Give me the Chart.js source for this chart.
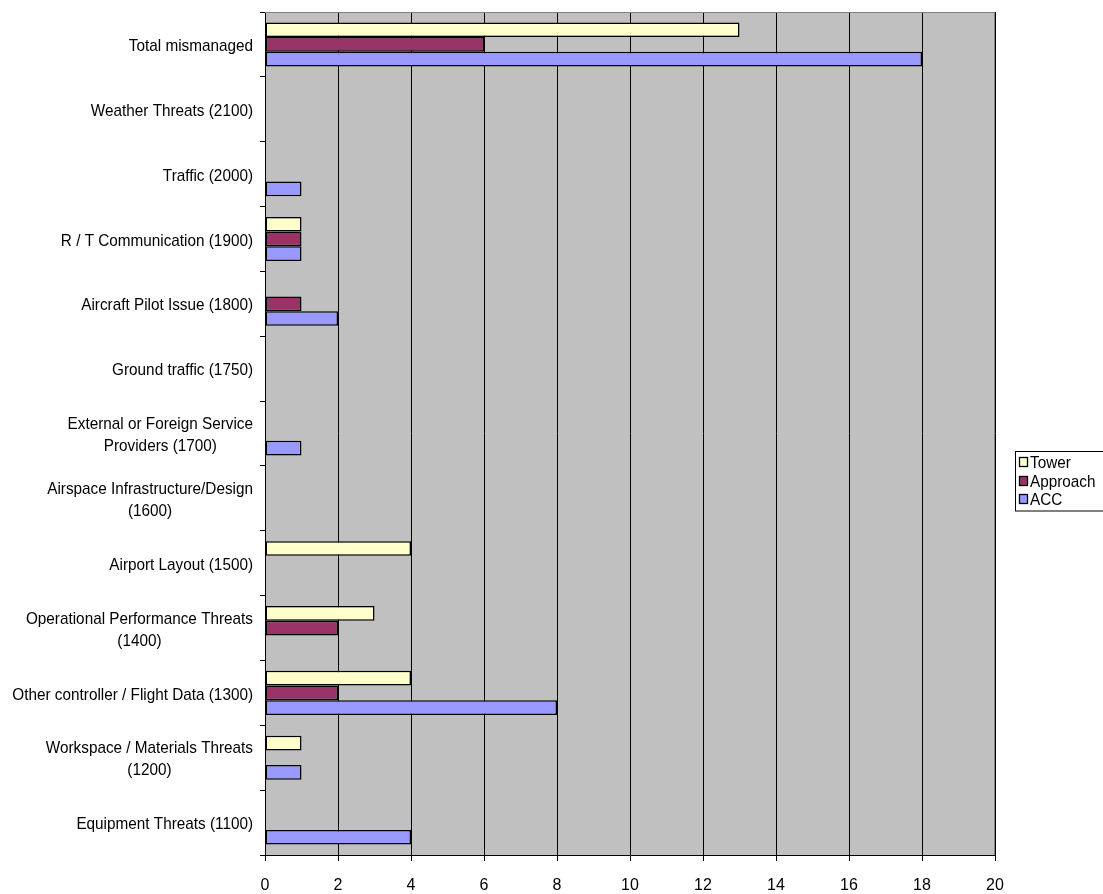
<!DOCTYPE html>
<html>
<head>
<meta charset="utf-8">
<script src="https://cdn.jsdelivr.net/npm/chart.js@4/dist/chart.umd.min.js"></script>
<style>
  html, body { margin: 0; padding: 0; background: #fff; }
  #wrap { width: 1103px; height: 894px; position: relative; }
</style>
</head>
<body>
<div id="wrap"><canvas id="c" width="1103" height="894"></canvas></div>
<script>
// Threat categories, top to bottom
const categories = [
  'Total mismanaged',
  'Weather Threats (2100)',
  'Traffic (2000)',
  'R / T Communication (1900)',
  'Aircraft Pilot Issue (1800)',
  'Ground traffic (1750)',
  ['External or Foreign Service', 'Providers (1700)'],
  ['Airspace Infrastructure/Design', '(1600)'],
  'Airport Layout (1500)',
  ['Operational Performance Threats', '(1400)'],
  'Other controller / Flight Data (1300)',
  ['Workspace / Materials Threats', '(1200)'],
  'Equipment Threats (1100)'
];

const towerValues    = [13, 0, 0, 1, 0, 0, 0, 0, 4, 3, 4, 1, 0];
const approachValues = [ 6, 0, 0, 1, 1, 0, 0, 0, 0, 2, 2, 0, 0];
const accValues      = [18, 0, 1, 1, 2, 0, 1, 0, 0, 0, 8, 1, 4];

const xTicks = [0, 2, 4, 6, 8, 10, 12, 14, 16, 18, 20];

const FONT = 'Liberation Sans, Arial, sans-serif';
const TEXT_SIZE = 17;
const SQUEEZE = 0.9;   // slightly condensed lettering

// Grey plot background with a thin frame on top and right
const plotBackground = {
  id: 'plotBackground',
  beforeDraw(chart) {
    const { ctx, chartArea: a } = chart;
    ctx.save();
    ctx.fillStyle = '#C0C0C0';
    ctx.fillRect(a.left, a.top, a.right - a.left, a.bottom - a.top);
    ctx.restore();
  },
  afterDatasetsDraw(chart) {
    const { ctx, chartArea: a } = chart;
    ctx.save();
    ctx.strokeStyle = '#808080';
    ctx.lineWidth = 1;
    ctx.beginPath();
    ctx.moveTo(a.left, a.top + 0.5);
    ctx.lineTo(a.right - 0.5, a.top + 0.5);
    ctx.lineTo(a.right - 0.5, a.bottom);
    ctx.stroke();
    ctx.restore();
  }
};

// Draw condensed text, anchored by its visual centre
function condensedText(ctx, str, cx, cy) {
  ctx.save();
  ctx.translate(cx, cy);
  ctx.scale(SQUEEZE, 1);
  ctx.textAlign = 'center';
  ctx.textBaseline = 'middle';
  ctx.fillText(str, 0, 0);
  ctx.restore();
}

// Category names: right-aligned block, lines centred within it
const categoryLabels = {
  id: 'categoryLabels',
  afterDraw(chart) {
    const { ctx } = chart;
    const yScale = chart.scales.y;
    const rightEdge = chart.chartArea.left - 12;
    const lineH = 22;
    ctx.save();
    ctx.font = TEXT_SIZE + 'px ' + FONT;
    ctx.fillStyle = '#000';
    chart.data.labels.forEach((lab, i) => {
      const lines = Array.isArray(lab) ? lab : [lab];
      const maxW = Math.max(...lines.map(l => ctx.measureText(l).width)) * SQUEEZE;
      const cx = rightEdge - maxW / 2;
      const cy = yScale.getPixelForTick(i);
      const startY = cy - (lines.length - 1) * lineH / 2 + 2;
      lines.forEach((l, k) => condensedText(ctx, l, cx, startY + k * lineH));
    });
    ctx.restore();
  }
};

// Boxed legend at the right-hand side
const boxLegend = {
  id: 'boxLegend',
  afterDraw(chart) {
    const { ctx } = chart;
    const ds = chart.data.datasets;
    const x = 1015, y = 451, w = 92, rowH = 18.5;
    const h = ds.length * rowH + 4;
    ctx.save();
    ctx.fillStyle = '#fff';
    ctx.fillRect(x, y, w, h);
    ctx.strokeStyle = '#000';
    ctx.lineWidth = 1;
    ctx.strokeRect(x + 0.5, y + 0.5, w, h);
    ctx.font = TEXT_SIZE + 'px ' + FONT;
    ctx.textBaseline = 'middle';
    ds.forEach((d, i) => {
      const cy = Math.round(y + 11 + i * rowH);
      ctx.fillStyle = d.backgroundColor;
      ctx.fillRect(x + 4, cy - 5, 9, 10);
      ctx.strokeStyle = '#000';
      ctx.lineWidth = 1.3;
      ctx.strokeRect(x + 4.5, cy - 4.5, 8, 9);
      ctx.fillStyle = '#000';
      ctx.save();
      ctx.translate(x + 15, cy + 1);
      ctx.scale(SQUEEZE, 1);
      ctx.textAlign = 'left';
      ctx.fillText(d.label, 0, 0);
      ctx.restore();
    });
    ctx.restore();
  }
};

new Chart(document.getElementById('c'), {
  type: 'bar',
  data: {
    labels: categories,
    datasets: [
      { label: 'Tower',    data: towerValues,    backgroundColor: '#FFFFCC' },
      { label: 'Approach', data: approachValues, backgroundColor: '#993366' },
      { label: 'ACC',      data: accValues,      backgroundColor: '#9999FF' }
    ]
  },
  options: {
    indexAxis: 'y',
    responsive: false,
    animation: false,
    devicePixelRatio: 1,
    layout: { padding: { top: 12, right: 108, left: 0, bottom: 0 } },
    datasets: {
      bar: {
        borderColor: '#000',
        borderWidth: 1.5,
        borderSkipped: false,
        categoryPercentage: 0.68,
        barPercentage: 1.0
      }
    },
    plugins: {
      legend: { display: false },
      tooltip: { enabled: false }
    },
    scales: {
      x: {
        min: 0,
        max: 20,
        afterBuildTicks(axis) { axis.ticks = xTicks.map(v => ({ value: v })); },
        afterFit(axis) { axis.height = 39; },
        grid: {
          color: '#000',
          lineWidth: 1,
          drawTicks: true,
          tickLength: 6,
          tickColor: '#000'
        },
        border: { display: true, color: '#000', width: 1 },
        ticks: {
          color: '#000',
          font: { family: FONT, size: 16 },
          padding: 15,
          maxRotation: 0
        }
      },
      y: {
        afterFit(axis) { axis.width = 265; },
        grid: {
          offset: true,
          drawOnChartArea: false,
          drawTicks: true,
          tickLength: 5,
          tickColor: '#000'
        },
        border: { display: true, color: '#000', width: 1 },
        ticks: { display: false }
      }
    }
  },
  plugins: [plotBackground, categoryLabels, boxLegend]
});
</script>
</body>
</html>
